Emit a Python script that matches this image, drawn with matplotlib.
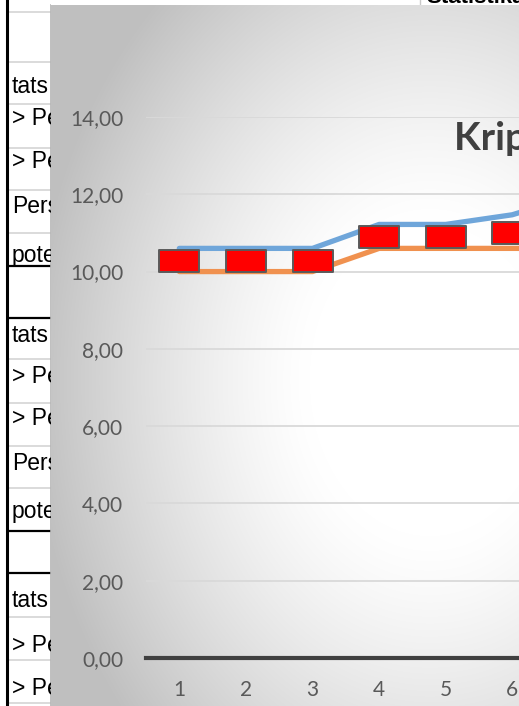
import matplotlib.pyplot as plt
import numpy as np
from matplotlib.path import Path
from matplotlib.ticker import FuncFormatter

W, H = 519, 706

# chart series (category 7 runs off the right edge of the screenshot)
categories = [1, 2, 3, 4, 5, 6, 7]
series_max = [10.60, 10.60, 10.60, 11.22, 11.22, 11.47, 12.00]
series_min = [10.00, 10.00, 10.00, 10.60, 10.60, 10.60, 10.60]
series_avg = [10.28, 10.28, 10.28, 10.89, 10.89, 10.99, 11.30]
y_ticks = [0, 2, 4, 6, 8, 10, 12, 14]
chart_title = "Kriptovalūtu cenas"

# spreadsheet cells peeking out left of the chart (only the visible part)
cell_texts = ["tats", "> Pe", "> Pe", "Pers", "pote",
              "tats", "> Pe", "> Pe", "Pers", "pote",
              "tats", "> Pe", "> Pe"]
top_cell_text = "Statistika"


def main():
    fig = plt.figure(figsize=(W / 100, H / 100), dpi=100)
    fig.patch.set_facecolor("white")

    # --- the sheet behind the chart (pixel coords, y down)
    sheet = fig.add_axes([0, 0, 1, 1], zorder=-3)
    sheet.set_xlim(0, W)
    sheet.set_ylim(H, 0)
    sheet.axis("off")
    sheet.plot([420, 420], [0, 6], color="#c8c8c8", lw=1)
    sheet.text(426, 3, top_cell_text, family="Liberation Sans", fontsize=16,
               weight="bold", va="baseline", ha="left", color="black")

    # left strip of cells, clipped where the chart starts
    strip = fig.add_axes([0, 0, 51 / W, 1], zorder=-3)
    strip.set_xlim(0, 51)
    strip.set_ylim(H, 0)
    strip.axis("off")
    gray_rows = [12, 62, 104, 148, 190, 233, 359, 403, 446, 488, 617, 660, 703]
    black_rows = [266, 318, 531, 573]
    for y in gray_rows:
        strip.plot([8, 51], [y, y], color="#d4d4d4", lw=1.2)
    for y in black_rows:
        strip.plot([8, 51], [y, y], color="black", lw=1.6)
    strip.plot([7, 7], [0, H], color="black", lw=2.2)
    baselines = [93, 125, 168, 213, 262, 342, 383, 425, 470, 518, 607, 652, 695]
    for txt, yb in zip(cell_texts, baselines):
        strip.text(12, yb, txt, family="Liberation Sans", fontsize=16.5,
                   va="baseline", ha="left", color="black", clip_on=True)
    strip.plot([50.5, 50.5], [5, H], color="#b4b4b4", lw=1.2)

    # --- chart area background: soft radial gradient, white right of centre
    bx0, by0 = 51, 5
    bg = fig.add_axes([bx0 / W, 0, (W - bx0) / W, (H - by0) / H], zorder=-2)
    xs = np.arange(bx0, W) + 0.5
    ys = np.arange(by0, H) + 0.5
    gx, gy = np.meshgrid(xs, ys)
    r = np.sqrt(((gx - 430) / 400) ** 2 + ((gy - 380) / 520) ** 2)
    loss = 0.25 * np.clip((r - 0.3) / 0.7, 0, 1) ** 1.3
    shade = 1 - loss
    bg.imshow(np.dstack([shade] * 3), aspect="auto", interpolation="bilinear",
              extent=(bx0, W, H, by0))
    bg.axis("off")

    # --- the plot itself
    ax = fig.add_axes([146 / W, (H - 658) / H, (W - 146) / W, (658 - 117) / H])
    ax.set_facecolor("none")
    ax.set_xlim(0.5, 0.5 + (W - 146) / 66.6)
    ax.set_ylim(0, 14)

    ax.plot(categories, series_max, color="#6fa6da", lw=3.8,
            solid_capstyle="round", solid_joinstyle="round", zorder=2)
    ax.plot(categories, series_min, color="#f0914f", lw=3.8,
            solid_capstyle="round", solid_joinstyle="round", zorder=2)
    rect = Path([(-1, -0.58), (1, -0.58), (1, 0.58), (-1, 0.58), (-1, -0.58)],
                [Path.MOVETO, Path.LINETO, Path.LINETO, Path.LINETO, Path.CLOSEPOLY])
    ax.plot(categories, series_avg, ls="none", marker=rect, ms=28.5,
            mfc="#ff0000", mec="#5a5a5a", mew=1.4, zorder=3)

    ax.set_yticks(y_ticks)
    ax.yaxis.set_major_formatter(FuncFormatter(lambda v, p: f"{v:.2f}".replace(".", ",")))
    ax.set_xticks(categories[:-1])
    ax.yaxis.grid(True, color="#d9d9d9", lw=1.3)
    ax.set_axisbelow(True)
    for side in ("top", "right", "left"):
        ax.spines[side].set_visible(False)
    ax.spines["bottom"].set_color("#404040")
    ax.spines["bottom"].set_linewidth(3)
    ax.tick_params(axis="y", length=0, pad=16.5, labelsize=15, labelcolor="#595959")
    ax.tick_params(axis="x", length=0, pad=15.5, labelsize=15, labelcolor="#595959")
    for lab in ax.get_xticklabels() + ax.get_yticklabels():
        lab.set_family("Lato")

    fig.text(454 / W, 1 - 150 / H, chart_title, family="Lato", weight="bold",
             fontsize=28, color="#404040", ha="left", va="baseline")

    fig.savefig("out.png", dpi=100)
    plt.close(fig)


if __name__ == "__main__":
    main()
